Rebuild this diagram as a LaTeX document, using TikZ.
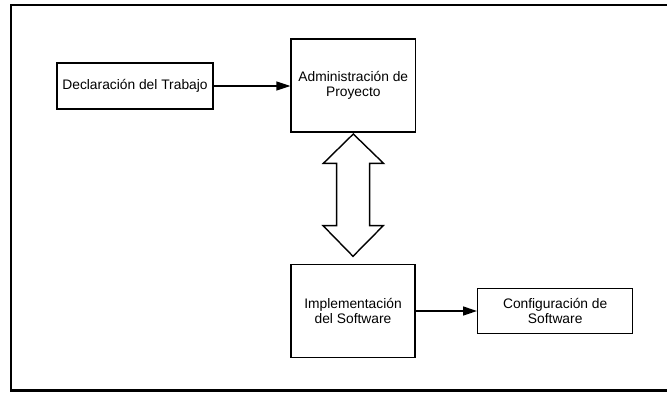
\documentclass[tikz,border=0pt]{standalone}
\usepackage{fontspec}
\setmainfont{Liberation Sans}
\usetikzlibrary{arrows.meta,calc}
\begin{document}
\begin{tikzpicture}[x=1pt,y=-1pt,
  box/.style={draw,line width=1.4pt,rectangle,inner sep=0pt,align=center,
    font=\fontsize{13.8}{15.5}\selectfont},
  flow/.style={line width=1.4pt,-{Triangle[length=14pt,width=9pt]}}]
  \useasboundingbox (0,0) rectangle (667,392);
  % open frame running off the right edge
  \draw[line width=2.2pt] (667,5) -- (11,5) -- (11,390.5) -- (667,390.5);
  % boxes
  \node[box,minimum width=156pt,minimum height=46pt] (decl) at (135,86) {Declaración del Trabajo};
  \node[box,minimum width=124.5pt,minimum height=93pt] (admin) at (353.3,85.5) {Administración de\\Proyecto};
  \node[box,minimum width=124pt,minimum height=93.4pt] (impl) at (353,311) {Implementación\\del Software};
  \node[box,minimum width=155pt,minimum height=45pt] (conf) at (555.2,310.8) {Configuración de\\Software};
  % flow arrows
  \draw[flow] (decl.east) -- (decl.east -| admin.west);
  \draw[flow] (impl.east) -- (impl.east -| conf.west);
  % hollow double-headed block arrow between the middle boxes
  \coordinate (top) at ($(admin.south)+(0,1.3)$);
  \coordinate (bot) at ($(impl.north)+(0,-7.3)$);
  \draw[line width=1.4pt,line join=miter]
    (top) -- ++(-30,29.4) -- ++(13.3,0) |- ($(bot)+(-16.7,-30.7)$)
    -- ++(-13.3,0) -- (bot) -- ++(30.3,-30.7) -- ++(-13.7,0)
    |- ($(top)+(30.3,29.4)$) -- cycle;
\end{tikzpicture}
\end{document}
